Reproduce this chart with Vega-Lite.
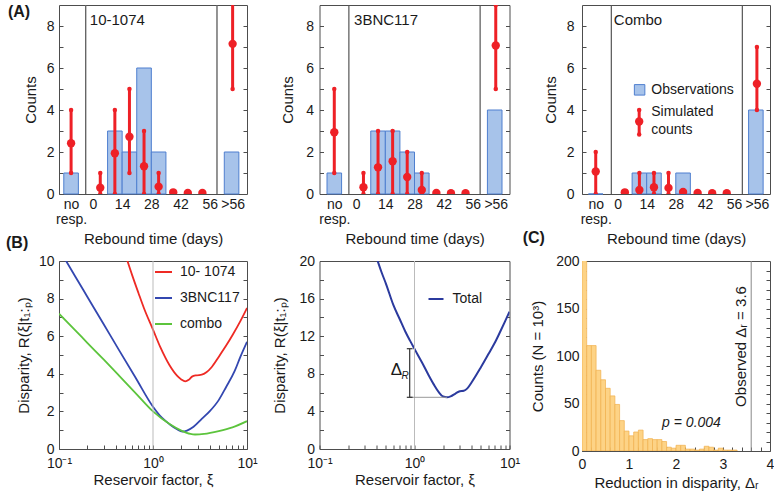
{
  "$schema": "https://vega.github.io/schema/vega-lite/v6.json",
  "padding": {"left": 5, "top": 3, "right": 0, "bottom": 0},
  "bounds": "flush",
  "columns": 3,
  "spacing": {"row": 67, "column": 72.5},
  "resolve": {"scale": {"color": "independent"}, "legend": {"color": "independent"}},
  "config": {
    "font": "Liberation Sans",
    "view": {"stroke": "#4d4d4d", "strokeWidth": 1},
    "axis": {"domain": false, "grid": false, "tickColor": "#4d4d4d", "tickSize": -4, "tickWidth": 1, "labelFontSize": 14, "labelColor": "#1a1a1a", "titleFontSize": 15, "titleFontWeight": "normal", "titleColor": "#1a1a1a", "labelFlush": false, "labelOverlap": false},
    "legend": {"labelFontSize": 14, "labelColor": "#1a1a1a"},
    "text": {"color": "#1a1a1a"}
  },
  "datasets": {
    "one": [{}],
    "obs": [
      {"drug": "10-1074", "start": -14, "end": -7, "count": 1},
      {"drug": "10-1074", "start": 7, "end": 14, "count": 3},
      {"drug": "10-1074", "start": 14, "end": 21, "count": 2},
      {"drug": "10-1074", "start": 21, "end": 28, "count": 6},
      {"drug": "10-1074", "start": 28, "end": 35, "count": 2},
      {"drug": "10-1074", "start": 63, "end": 70, "count": 2},
      {"drug": "3BNC117", "start": -14, "end": -7, "count": 1},
      {"drug": "3BNC117", "start": 7, "end": 14, "count": 3},
      {"drug": "3BNC117", "start": 14, "end": 21, "count": 3},
      {"drug": "3BNC117", "start": 21, "end": 28, "count": 2},
      {"drug": "3BNC117", "start": 28, "end": 35, "count": 1},
      {"drug": "3BNC117", "start": 63, "end": 70, "count": 4},
      {"drug": "Combo", "start": -14, "end": -7, "count": 0},
      {"drug": "Combo", "start": 7, "end": 14, "count": 1},
      {"drug": "Combo", "start": 14, "end": 21, "count": 1},
      {"drug": "Combo", "start": 28, "end": 35, "count": 1},
      {"drug": "Combo", "start": 63, "end": 70, "count": 4}
    ],
    "sim": [
      {"drug": "10-1074", "day": -10.5, "mean": 2.42, "low": 1, "high": 4},
      {"drug": "10-1074", "day": 3.5, "mean": 0.3, "low": 0, "high": 1},
      {"drug": "10-1074", "day": 10.5, "mean": 1.94, "low": 0, "high": 4},
      {"drug": "10-1074", "day": 17.5, "mean": 2.73, "low": 1, "high": 5},
      {"drug": "10-1074", "day": 24.5, "mean": 1.32, "low": 0, "high": 3},
      {"drug": "10-1074", "day": 31.5, "mean": 0.35, "low": 0, "high": 1},
      {"drug": "10-1074", "day": 38.5, "mean": 0.08, "low": null, "high": null},
      {"drug": "10-1074", "day": 45.5, "mean": 0.05, "low": null, "high": null},
      {"drug": "10-1074", "day": 52.5, "mean": 0.05, "low": null, "high": null},
      {"drug": "10-1074", "day": 67, "mean": 7.15, "low": 5, "high": 10},
      {"drug": "3BNC117", "day": -10.5, "mean": 2.94, "low": 1, "high": 5},
      {"drug": "3BNC117", "day": 3.5, "mean": 0.32, "low": 0, "high": 1},
      {"drug": "3BNC117", "day": 10.5, "mean": 1.27, "low": 0, "high": 3},
      {"drug": "3BNC117", "day": 17.5, "mean": 1.56, "low": 0, "high": 3},
      {"drug": "3BNC117", "day": 24.5, "mean": 0.81, "low": 0, "high": 2},
      {"drug": "3BNC117", "day": 31.5, "mean": 0.19, "low": 0, "high": 1},
      {"drug": "3BNC117", "day": 38.5, "mean": 0.05, "low": null, "high": null},
      {"drug": "3BNC117", "day": 45.5, "mean": 0.04, "low": null, "high": null},
      {"drug": "3BNC117", "day": 52.5, "mean": 0.04, "low": null, "high": null},
      {"drug": "3BNC117", "day": 67, "mean": 7.07, "low": 5, "high": 9},
      {"drug": "Combo", "day": -10.5, "mean": 1.07, "low": 0, "high": 2},
      {"drug": "Combo", "day": 3.5, "mean": 0.08, "low": null, "high": null},
      {"drug": "Combo", "day": 10.5, "mean": 0.19, "low": 0, "high": 1},
      {"drug": "Combo", "day": 17.5, "mean": 0.32, "low": 0, "high": 1},
      {"drug": "Combo", "day": 24.5, "mean": 0.29, "low": 0, "high": 1},
      {"drug": "Combo", "day": 31.5, "mean": 0.1, "low": null, "high": null},
      {"drug": "Combo", "day": 38.5, "mean": 0.05, "low": null, "high": null},
      {"drug": "Combo", "day": 45.5, "mean": 0.04, "low": null, "high": null},
      {"drug": "Combo", "day": 52.5, "mean": 0.04, "low": null, "high": null},
      {"drug": "Combo", "day": 67, "mean": 5.25, "low": 4, "high": 7}
    ],
    "curves": [
      {"drug": "10- 1074", "xi": 0.5, "R": 10.45},
      {"drug": "10- 1074", "xi": 0.6, "R": 9.25},
      {"drug": "10- 1074", "xi": 0.7, "R": 8.3},
      {"drug": "10- 1074", "xi": 0.8, "R": 7.5},
      {"drug": "10- 1074", "xi": 1.0, "R": 6.35},
      {"drug": "10- 1074", "xi": 1.2, "R": 5.4},
      {"drug": "10- 1074", "xi": 1.5, "R": 4.45},
      {"drug": "10- 1074", "xi": 1.8, "R": 3.9},
      {"drug": "10- 1074", "xi": 2.0, "R": 3.7},
      {"drug": "10- 1074", "xi": 2.2, "R": 3.6},
      {"drug": "10- 1074", "xi": 2.4, "R": 3.68},
      {"drug": "10- 1074", "xi": 2.6, "R": 3.85},
      {"drug": "10- 1074", "xi": 2.9, "R": 3.92},
      {"drug": "10- 1074", "xi": 3.3, "R": 3.95},
      {"drug": "10- 1074", "xi": 3.7, "R": 4.08},
      {"drug": "10- 1074", "xi": 4.2, "R": 4.35},
      {"drug": "10- 1074", "xi": 5.0, "R": 4.9},
      {"drug": "10- 1074", "xi": 6.0, "R": 5.5},
      {"drug": "10- 1074", "xi": 7.0, "R": 6.05},
      {"drug": "10- 1074", "xi": 8.5, "R": 6.8},
      {"drug": "10- 1074", "xi": 10, "R": 7.5},
      {"drug": "3BNC117", "xi": 0.1, "R": 10.64},
      {"drug": "3BNC117", "xi": 0.15, "R": 9.15},
      {"drug": "3BNC117", "xi": 0.2, "R": 8.1},
      {"drug": "3BNC117", "xi": 0.3, "R": 6.62},
      {"drug": "3BNC117", "xi": 0.44, "R": 5.22},
      {"drug": "3BNC117", "xi": 0.66, "R": 3.75},
      {"drug": "3BNC117", "xi": 1.0, "R": 2.25},
      {"drug": "3BNC117", "xi": 1.25, "R": 1.65},
      {"drug": "3BNC117", "xi": 1.5, "R": 1.32},
      {"drug": "3BNC117", "xi": 1.8, "R": 1.05},
      {"drug": "3BNC117", "xi": 2.05, "R": 0.93},
      {"drug": "3BNC117", "xi": 2.3, "R": 0.98},
      {"drug": "3BNC117", "xi": 2.7, "R": 1.18},
      {"drug": "3BNC117", "xi": 3.3, "R": 1.6},
      {"drug": "3BNC117", "xi": 4.0, "R": 2.0},
      {"drug": "3BNC117", "xi": 5.0, "R": 2.6},
      {"drug": "3BNC117", "xi": 6.0, "R": 3.3},
      {"drug": "3BNC117", "xi": 7.4, "R": 4.15},
      {"drug": "3BNC117", "xi": 8.5, "R": 4.9},
      {"drug": "3BNC117", "xi": 10, "R": 5.7},
      {"drug": "combo", "xi": 0.1, "R": 7.2},
      {"drug": "combo", "xi": 0.15, "R": 6.3},
      {"drug": "combo", "xi": 0.2, "R": 5.65},
      {"drug": "combo", "xi": 0.3, "R": 4.75},
      {"drug": "combo", "xi": 0.44, "R": 3.88},
      {"drug": "combo", "xi": 0.66, "R": 2.95},
      {"drug": "combo", "xi": 1.0, "R": 2.0},
      {"drug": "combo", "xi": 1.5, "R": 1.33},
      {"drug": "combo", "xi": 2.0, "R": 0.98},
      {"drug": "combo", "xi": 2.5, "R": 0.8},
      {"drug": "combo", "xi": 2.8, "R": 0.77},
      {"drug": "combo", "xi": 3.5, "R": 0.8},
      {"drug": "combo", "xi": 5.0, "R": 0.95},
      {"drug": "combo", "xi": 7.0, "R": 1.15},
      {"drug": "combo", "xi": 10, "R": 1.48}
    ],
    "total": [
      {"series": "Total", "xi": 0.38, "R": 21.0},
      {"series": "Total", "xi": 0.45, "R": 18.8},
      {"series": "Total", "xi": 0.5, "R": 17.6},
      {"series": "Total", "xi": 0.6, "R": 15.3},
      {"series": "Total", "xi": 0.7, "R": 13.8},
      {"series": "Total", "xi": 0.8, "R": 12.5},
      {"series": "Total", "xi": 0.9, "R": 11.5},
      {"series": "Total", "xi": 1.0, "R": 10.65},
      {"series": "Total", "xi": 1.2, "R": 9.2},
      {"series": "Total", "xi": 1.4, "R": 7.9},
      {"series": "Total", "xi": 1.6, "R": 6.85},
      {"series": "Total", "xi": 1.8, "R": 6.05},
      {"series": "Total", "xi": 2.0, "R": 5.58},
      {"series": "Total", "xi": 2.2, "R": 5.5},
      {"series": "Total", "xi": 2.4, "R": 5.6},
      {"series": "Total", "xi": 2.7, "R": 5.9},
      {"series": "Total", "xi": 3.0, "R": 6.15},
      {"series": "Total", "xi": 3.3, "R": 6.2},
      {"series": "Total", "xi": 3.6, "R": 6.45},
      {"series": "Total", "xi": 4.0, "R": 7.1},
      {"series": "Total", "xi": 5.0, "R": 8.7},
      {"series": "Total", "xi": 6.0, "R": 10.1},
      {"series": "Total", "xi": 7.0, "R": 11.3},
      {"series": "Total", "xi": 8.0, "R": 12.5},
      {"series": "Total", "xi": 9.0, "R": 13.6},
      {"series": "Total", "xi": 10, "R": 14.6}
    ],
    "hist": [
      {"lo": 0.0, "hi": 0.1, "n": 228}, {"lo": 0.1, "hi": 0.2, "n": 111}, {"lo": 0.2, "hi": 0.3, "n": 111},
      {"lo": 0.3, "hi": 0.4, "n": 85}, {"lo": 0.4, "hi": 0.5, "n": 75}, {"lo": 0.5, "hi": 0.6, "n": 66},
      {"lo": 0.6, "hi": 0.7, "n": 58}, {"lo": 0.7, "hi": 0.8, "n": 49}, {"lo": 0.8, "hi": 0.9, "n": 32},
      {"lo": 0.9, "hi": 1.0, "n": 21}, {"lo": 1.0, "hi": 1.1, "n": 16}, {"lo": 1.1, "hi": 1.2, "n": 20},
      {"lo": 1.2, "hi": 1.3, "n": 22}, {"lo": 1.3, "hi": 1.4, "n": 12}, {"lo": 1.4, "hi": 1.5, "n": 13},
      {"lo": 1.5, "hi": 1.6, "n": 12}, {"lo": 1.6, "hi": 1.7, "n": 12}, {"lo": 1.7, "hi": 1.8, "n": 10},
      {"lo": 1.8, "hi": 1.9, "n": 4}, {"lo": 1.9, "hi": 2.0, "n": 3}, {"lo": 2.0, "hi": 2.1, "n": 6},
      {"lo": 2.1, "hi": 2.2, "n": 6}, {"lo": 2.2, "hi": 2.3, "n": 2}, {"lo": 2.3, "hi": 2.4, "n": 2},
      {"lo": 2.4, "hi": 2.5, "n": 1}, {"lo": 2.5, "hi": 2.6, "n": 2}, {"lo": 2.6, "hi": 2.7, "n": 5},
      {"lo": 2.7, "hi": 2.8, "n": 4}, {"lo": 2.8, "hi": 2.9, "n": 1}, {"lo": 2.9, "hi": 3.0, "n": 3},
      {"lo": 3.0, "hi": 3.1, "n": 1}, {"lo": 3.1, "hi": 3.2, "n": 1}, {"lo": 3.2, "hi": 3.3, "n": 1}
    ]
  },
  "concat": [
    {
      "width": 188, "height": 189,
      "resolve": {"axis": {"x": "independent", "y": "independent"}},
      "layer": [
        {"data": {"name": "obs"}, "transform": [{"filter": "datum.drug === '10-1074'"}],
         "mark": {"type": "bar", "fill": "#a7c3ea", "stroke": "#4f7fcf", "strokeWidth": 1},
         "encoding": {
           "x": {"field": "start", "type": "quantitative", "scale": {"domain": [-16.3, 73.9], "nice": false, "zero": false},
                 "axis": {"title": "Rebound time (days)", "values": [-10.5, 0, 14, 28, 42, 56, 67], "labelExpr": "datum.value == -10.5 ? ['no', 'resp.'] : datum.value == 67 ? '>56' : datum.label", "ticks": false, "labelPadding": 3, "labelLineHeight": 15, "titlePadding": 5, "labelOverlap": false}},
           "x2": {"field": "end"},
           "y": {"field": "count", "type": "quantitative", "scale": {"domain": [0, 9], "nice": false},
                 "axis": {"title": "Counts", "values": [0, 1, 2, 3, 4, 5, 6, 7, 8], "labelExpr": "datum.value % 2 == 0 ? datum.label : ''", "labelPadding": 9, "titlePadding": 8, "labelOverlap": false}},
           "y2": {"datum": 0}
         }},
        {"data": {"name": "one"}, "mark": {"type": "point", "opacity": 0},
         "encoding": {"y": {"datum": 0, "type": "quantitative", "axis": {"orient": "right", "labels": false, "title": null, "values": [1, 2, 3, 4, 5, 6, 7, 8]}}}},
        {"data": {"name": "one"}, "mark": {"type": "rule", "color": "#666666", "strokeWidth": 1.4}, "encoding": {"x": {"datum": -3.5, "type": "quantitative", "axis": null}}},
        {"data": {"name": "one"}, "mark": {"type": "rule", "color": "#666666", "strokeWidth": 1.4}, "encoding": {"x": {"datum": 59.5, "type": "quantitative", "axis": null}}},
        {"data": {"name": "sim"}, "transform": [{"filter": "datum.drug === '10-1074'"}],
         "mark": {"type": "rule", "color": "#ee2026", "strokeWidth": 3, "clip": true},
         "encoding": {"x": {"field": "day", "type": "quantitative", "axis": null}, "y": {"field": "low", "type": "quantitative", "axis": null}, "y2": {"field": "high"}}},
        {"data": {"name": "sim"}, "transform": [{"filter": "datum.drug === '10-1074'"}],
         "mark": {"type": "circle", "color": "#ee2026", "opacity": 1, "size": 20, "clip": true},
         "encoding": {"x": {"field": "day", "type": "quantitative", "axis": null}, "y": {"field": "low", "type": "quantitative", "axis": null}}},
        {"data": {"name": "sim"}, "transform": [{"filter": "datum.drug === '10-1074'"}],
         "mark": {"type": "circle", "color": "#ee2026", "opacity": 1, "size": 20, "clip": true},
         "encoding": {"x": {"field": "day", "type": "quantitative", "axis": null}, "y": {"field": "high", "type": "quantitative", "axis": null}}},
        {"data": {"name": "sim"}, "transform": [{"filter": "datum.drug === '10-1074'"}],
         "mark": {"type": "circle", "color": "#ee2026", "opacity": 1, "size": 70, "clip": true},
         "encoding": {"x": {"field": "day", "type": "quantitative", "axis": null}, "y": {"field": "mean", "type": "quantitative", "axis": null}}},
        {"data": {"name": "one"}, "mark": {"type": "text", "text": "10-1074", "align": "left", "baseline": "middle", "fontSize": 15},
         "encoding": {"x": {"datum": -1.5, "type": "quantitative", "axis": null}, "y": {"datum": 8.3, "type": "quantitative", "axis": null}}},
        {"data": {"name": "one"}, "mark": {"type": "text", "text": "(A)", "align": "left", "baseline": "middle", "fontSize": 16, "fontWeight": "bold"},
         "encoding": {"x": {"datum": -40.8, "type": "quantitative", "axis": null}, "y": {"datum": 8.67, "type": "quantitative", "axis": null}}}
      ]
    },
    {
      "width": 190, "height": 189,
      "resolve": {"axis": {"x": "independent", "y": "independent"}},
      "layer": [
        {"data": {"name": "obs"}, "transform": [{"filter": "datum.drug === '3BNC117'"}],
         "mark": {"type": "bar", "fill": "#a7c3ea", "stroke": "#4f7fcf", "strokeWidth": 1},
         "encoding": {
           "x": {"field": "start", "type": "quantitative", "scale": {"domain": [-17.6, 73.6], "nice": false, "zero": false},
                 "axis": {"title": "Rebound time (days)", "values": [-10.5, 0, 14, 28, 42, 56, 67], "labelExpr": "datum.value == -10.5 ? ['no', 'resp.'] : datum.value == 67 ? '>56' : datum.label", "ticks": false, "labelPadding": 3, "labelLineHeight": 15, "titlePadding": 5, "labelOverlap": false}},
           "x2": {"field": "end"},
           "y": {"field": "count", "type": "quantitative", "scale": {"domain": [0, 9], "nice": false},
                 "axis": {"title": "Counts", "values": [0, 1, 2, 3, 4, 5, 6, 7, 8], "labelExpr": "datum.value % 2 == 0 ? datum.label : ''", "labelPadding": 10, "titlePadding": 10, "labelOverlap": false}},
           "y2": {"datum": 0}
         }},
        {"data": {"name": "one"}, "mark": {"type": "point", "opacity": 0},
         "encoding": {"y": {"datum": 0, "type": "quantitative", "axis": {"orient": "right", "labels": false, "title": null, "values": [1, 2, 3, 4, 5, 6, 7, 8]}}}},
        {"data": {"name": "one"}, "mark": {"type": "rule", "color": "#555555", "strokeWidth": 1.2}, "encoding": {"x": {"datum": -3.5, "type": "quantitative", "axis": null}}},
        {"data": {"name": "one"}, "mark": {"type": "rule", "color": "#555555", "strokeWidth": 1.2}, "encoding": {"x": {"datum": 59.5, "type": "quantitative", "axis": null}}},
        {"data": {"name": "sim"}, "transform": [{"filter": "datum.drug === '3BNC117'"}],
         "mark": {"type": "rule", "color": "#ee2026", "strokeWidth": 3, "clip": true},
         "encoding": {"x": {"field": "day", "type": "quantitative", "axis": null}, "y": {"field": "low", "type": "quantitative", "axis": null}, "y2": {"field": "high"}}},
        {"data": {"name": "sim"}, "transform": [{"filter": "datum.drug === '3BNC117'"}],
         "mark": {"type": "circle", "color": "#ee2026", "opacity": 1, "size": 20, "clip": true},
         "encoding": {"x": {"field": "day", "type": "quantitative", "axis": null}, "y": {"field": "low", "type": "quantitative", "axis": null}}},
        {"data": {"name": "sim"}, "transform": [{"filter": "datum.drug === '3BNC117'"}],
         "mark": {"type": "circle", "color": "#ee2026", "opacity": 1, "size": 20, "clip": true},
         "encoding": {"x": {"field": "day", "type": "quantitative", "axis": null}, "y": {"field": "high", "type": "quantitative", "axis": null}}},
        {"data": {"name": "sim"}, "transform": [{"filter": "datum.drug === '3BNC117'"}],
         "mark": {"type": "circle", "color": "#ee2026", "opacity": 1, "size": 70, "clip": true},
         "encoding": {"x": {"field": "day", "type": "quantitative", "axis": null}, "y": {"field": "mean", "type": "quantitative", "axis": null}}},
        {"data": {"name": "one"}, "mark": {"type": "text", "text": "3BNC117", "align": "left", "baseline": "middle", "fontSize": 15},
         "encoding": {"x": {"datum": -1, "type": "quantitative", "axis": null}, "y": {"datum": 8.3, "type": "quantitative", "axis": null}}}
      ]
    },
    {
      "width": 188, "height": 189,
      "resolve": {"axis": {"x": "independent", "y": "independent"}},
      "layer": [
        {"data": {"name": "obs"}, "transform": [{"filter": "datum.drug === 'Combo'"}],
         "mark": {"type": "bar", "fill": "#a7c3ea", "stroke": "#4f7fcf", "strokeWidth": 1},
         "encoding": {
           "x": {"field": "start", "type": "quantitative", "scale": {"domain": [-17.1, 73.3], "nice": false, "zero": false},
                 "axis": {"title": "Rebound time (days)", "values": [-10.5, 0, 14, 28, 42, 56, 67], "labelExpr": "datum.value == -10.5 ? ['no', 'resp.'] : datum.value == 67 ? '>56' : datum.label", "ticks": false, "labelPadding": 3, "labelLineHeight": 15, "titlePadding": 5, "labelOverlap": false}},
           "x2": {"field": "end"},
           "y": {"field": "count", "type": "quantitative", "scale": {"domain": [0, 9], "nice": false},
                 "axis": {"title": "Counts", "values": [0, 1, 2, 3, 4, 5, 6, 7, 8], "labelExpr": "datum.value % 2 == 0 ? datum.label : ''", "labelPadding": 12, "titlePadding": 8, "labelOverlap": false}},
           "y2": {"datum": 0}
         }},
        {"data": {"name": "one"}, "mark": {"type": "point", "opacity": 0},
         "encoding": {"y": {"datum": 0, "type": "quantitative", "axis": {"orient": "right", "labels": false, "title": null, "values": [1, 2, 3, 4, 5, 6, 7, 8]}}}},
        {"data": {"name": "one"}, "mark": {"type": "rule", "color": "#555555", "strokeWidth": 1.2}, "encoding": {"x": {"datum": -3, "type": "quantitative", "axis": null}}},
        {"data": {"name": "one"}, "mark": {"type": "rule", "color": "#555555", "strokeWidth": 1.2}, "encoding": {"x": {"datum": 60, "type": "quantitative", "axis": null}}},
        {"data": {"name": "sim"}, "transform": [{"filter": "datum.drug === 'Combo'"}],
         "mark": {"type": "rule", "color": "#ee2026", "strokeWidth": 3, "clip": true},
         "encoding": {"x": {"field": "day", "type": "quantitative", "axis": null}, "y": {"field": "low", "type": "quantitative", "axis": null}, "y2": {"field": "high"}}},
        {"data": {"name": "sim"}, "transform": [{"filter": "datum.drug === 'Combo'"}],
         "mark": {"type": "circle", "color": "#ee2026", "opacity": 1, "size": 20, "clip": true},
         "encoding": {"x": {"field": "day", "type": "quantitative", "axis": null}, "y": {"field": "low", "type": "quantitative", "axis": null}}},
        {"data": {"name": "sim"}, "transform": [{"filter": "datum.drug === 'Combo'"}],
         "mark": {"type": "circle", "color": "#ee2026", "opacity": 1, "size": 20, "clip": true},
         "encoding": {"x": {"field": "day", "type": "quantitative", "axis": null}, "y": {"field": "high", "type": "quantitative", "axis": null}}},
        {"data": {"name": "sim"}, "transform": [{"filter": "datum.drug === 'Combo'"}],
         "mark": {"type": "circle", "color": "#ee2026", "opacity": 1, "size": 70, "clip": true},
         "encoding": {"x": {"field": "day", "type": "quantitative", "axis": null}, "y": {"field": "mean", "type": "quantitative", "axis": null}}},
        {"data": {"name": "one"}, "mark": {"type": "text", "text": "Combo", "align": "left", "baseline": "middle", "fontSize": 15},
         "encoding": {"x": {"datum": -1.8, "type": "quantitative", "axis": null}, "y": {"datum": 8.3, "type": "quantitative", "axis": null}}},
        {"data": {"name": "one"}, "mark": {"type": "square", "fill": "#a7c3ea", "stroke": "#4f7fcf", "strokeWidth": 1, "opacity": 1, "size": 110},
         "encoding": {"x": {"datum": 10.6, "type": "quantitative", "axis": null}, "y": {"datum": 4.96, "type": "quantitative", "axis": null}}},
        {"data": {"name": "one"}, "mark": {"type": "text", "text": "Observations", "align": "left", "baseline": "middle", "fontSize": 14},
         "encoding": {"x": {"datum": 16.2, "type": "quantitative", "axis": null}, "y": {"datum": 4.96, "type": "quantitative", "axis": null}}},
        {"data": {"name": "one"}, "mark": {"type": "rule", "color": "#ee2026", "strokeWidth": 3},
         "encoding": {"x": {"datum": 10.4, "type": "quantitative", "axis": null}, "y": {"datum": 2.83, "type": "quantitative", "axis": null}, "y2": {"datum": 4.0}}},
        {"data": {"name": "one"}, "mark": {"type": "circle", "color": "#ee2026", "opacity": 1, "size": 20},
         "encoding": {"x": {"datum": 10.4, "type": "quantitative", "axis": null}, "y": {"datum": 2.83, "type": "quantitative", "axis": null}}},
        {"data": {"name": "one"}, "mark": {"type": "circle", "color": "#ee2026", "opacity": 1, "size": 20},
         "encoding": {"x": {"datum": 10.4, "type": "quantitative", "axis": null}, "y": {"datum": 4.0, "type": "quantitative", "axis": null}}},
        {"data": {"name": "one"}, "mark": {"type": "circle", "color": "#ee2026", "opacity": 1, "size": 70},
         "encoding": {"x": {"datum": 10.4, "type": "quantitative", "axis": null}, "y": {"datum": 3.45, "type": "quantitative", "axis": null}}},
        {"data": {"name": "one"}, "mark": {"type": "text", "text": "Simulated", "align": "left", "baseline": "middle", "fontSize": 14},
         "encoding": {"x": {"datum": 16.2, "type": "quantitative", "axis": null}, "y": {"datum": 3.9, "type": "quantitative", "axis": null}}},
        {"data": {"name": "one"}, "mark": {"type": "text", "text": "counts", "align": "left", "baseline": "middle", "fontSize": 14},
         "encoding": {"x": {"datum": 16.2, "type": "quantitative", "axis": null}, "y": {"datum": 3.05, "type": "quantitative", "axis": null}}}
      ]
    },
    {
      "width": 188, "height": 188,
      "resolve": {"axis": {"x": "independent", "y": "independent"}},
      "layer": [
        {"data": {"name": "curves"},
         "mark": {"type": "line", "strokeWidth": 1.8, "interpolate": "monotone", "clip": true},
         "encoding": {
           "x": {"field": "xi", "type": "quantitative", "scale": {"type": "log", "domain": [0.1, 10], "nice": false},
                 "axis": {"title": "Reservoir factor, ξ", "values": [0.1, 0.2, 0.3, 0.4, 0.5, 0.6, 0.7, 0.8, 0.9, 1, 2, 3, 4, 5, 6, 7, 8, 9, 10], "labelExpr": "datum.value == 0.1 ? '10⁻¹' : datum.value == 1 ? '10⁰' : datum.value == 10 ? '10¹' : ''", "labelPadding": 11, "titlePadding": 2, "labelOverlap": false}},
           "y": {"field": "R", "type": "quantitative", "scale": {"domain": [0, 10], "nice": false},
                 "axis": {"title": "Disparity, R(ξ|t₁:ₚ)", "values": [0, 1, 2, 3, 4, 5, 6, 7, 8, 9, 10], "labelExpr": "datum.value % 2 == 0 ? datum.label : ''", "labelPadding": 9, "titlePadding": 7, "labelOverlap": false,
                          "encode": {"labels": {"update": {"dy": {"signal": "datum.value === 0 ? -4 : 0"}}}}}},
           "color": {"field": "drug", "type": "nominal", "sort": ["10- 1074", "3BNC117", "combo"],
                     "scale": {"domain": ["10- 1074", "3BNC117", "combo"], "range": ["#ee2a24", "#3347b0", "#5cc43c"]},
                     "legend": {"orient": "none", "legendX": 95, "legendY": 1.5, "title": null, "symbolType": "stroke", "symbolStrokeWidth": 2, "symbolSize": 289, "labelFontSize": 14, "rowPadding": 9, "labelOffset": 7}}
         }},
        {"data": {"name": "one"}, "mark": {"type": "point", "opacity": 0},
         "encoding": {"y": {"datum": 0, "type": "quantitative", "axis": {"orient": "right", "labels": false, "title": null, "values": [1, 2, 3, 4, 5, 6, 7, 8, 9]}}}},
        {"data": {"name": "one"}, "mark": {"type": "rule", "color": "#bbbbbb", "strokeWidth": 1}, "encoding": {"x": {"datum": 1, "type": "quantitative", "axis": null}}},
        {"data": {"name": "one"}, "mark": {"type": "text", "text": "(B)", "align": "left", "baseline": "middle", "fontSize": 16, "fontWeight": "bold"},
         "encoding": {"x": {"datum": 0.0273, "type": "quantitative", "axis": null}, "y": {"datum": 10.96, "type": "quantitative", "axis": null}}}
      ]
    },
    {
      "width": 190, "height": 188,
      "resolve": {"axis": {"x": "independent", "y": "independent"}},
      "layer": [
        {"data": {"name": "total"},
         "mark": {"type": "line", "strokeWidth": 2, "interpolate": "monotone", "clip": true},
         "encoding": {
           "x": {"field": "xi", "type": "quantitative", "scale": {"type": "log", "domain": [0.1, 10], "nice": false},
                 "axis": {"title": "Reservoir factor, ξ", "values": [0.1, 0.2, 0.3, 0.4, 0.5, 0.6, 0.7, 0.8, 0.9, 1, 2, 3, 4, 5, 6, 7, 8, 9, 10], "labelExpr": "datum.value == 0.1 ? '10⁻¹' : datum.value == 1 ? '10⁰' : datum.value == 10 ? '10¹' : ''", "labelPadding": 11, "titlePadding": 2, "labelOverlap": false}},
           "y": {"field": "R", "type": "quantitative", "scale": {"domain": [0, 20], "nice": false},
                 "axis": {"title": "Disparity, R(ξ|t₁:ₚ)", "values": [0, 2, 4, 6, 8, 10, 12, 14, 16, 18, 20], "labelExpr": "datum.value % 4 == 0 ? datum.label : ''", "labelPadding": 9, "titlePadding": 11, "labelOverlap": false,
                          "encode": {"labels": {"update": {"dy": {"signal": "datum.value === 0 ? -4 : 0"}}}}}},
           "color": {"field": "series", "type": "nominal",
                     "scale": {"domain": ["Total"], "range": ["#2b3a9e"]},
                     "legend": {"orient": "none", "legendX": 108, "legendY": 29.5, "title": null, "symbolType": "stroke", "symbolStrokeWidth": 2, "symbolSize": 225, "labelFontSize": 14, "labelOffset": 8}}
         }},
        {"data": {"name": "one"}, "mark": {"type": "point", "opacity": 0},
         "encoding": {"y": {"datum": 0, "type": "quantitative", "axis": {"orient": "right", "labels": false, "title": null, "values": [2, 4, 6, 8, 10, 12, 14, 16, 18]}}}},
        {"data": {"name": "one"}, "mark": {"type": "rule", "color": "#bbbbbb", "strokeWidth": 1}, "encoding": {"x": {"datum": 1, "type": "quantitative", "axis": null}}},
        {"data": {"name": "one"}, "mark": {"type": "rule", "color": "#999999", "strokeWidth": 1},
         "encoding": {"x": {"datum": 0.89, "type": "quantitative", "axis": null}, "x2": {"datum": 2.2}, "y": {"datum": 5.5, "type": "quantitative", "axis": null}}},
        {"data": {"name": "one"}, "mark": {"type": "rule", "color": "#333333", "strokeWidth": 1.2},
         "encoding": {"x": {"datum": 0.89, "type": "quantitative", "axis": null}, "y": {"datum": 5.5, "type": "quantitative", "axis": null}, "y2": {"datum": 10.67}}},
        {"data": {"name": "one"}, "mark": {"type": "rule", "color": "#333333", "strokeWidth": 1.2},
         "encoding": {"x": {"datum": 0.83, "type": "quantitative", "axis": null}, "x2": {"datum": 0.955}, "y": {"datum": 10.67, "type": "quantitative", "axis": null}}},
        {"data": {"name": "one"}, "mark": {"type": "rule", "color": "#333333", "strokeWidth": 1.2},
         "encoding": {"x": {"datum": 0.83, "type": "quantitative", "axis": null}, "x2": {"datum": 0.955}, "y": {"datum": 5.5, "type": "quantitative", "axis": null}}},
        {"data": {"name": "one"}, "mark": {"type": "text", "text": "Δ", "align": "right", "baseline": "middle", "fontSize": 17},
         "encoding": {"x": {"datum": 0.74, "type": "quantitative", "axis": null}, "y": {"datum": 8.4, "type": "quantitative", "axis": null}}},
        {"data": {"name": "one"}, "mark": {"type": "text", "text": "R", "align": "center", "baseline": "middle", "fontSize": 10, "fontStyle": "italic"},
         "encoding": {"x": {"datum": 0.795, "type": "quantitative", "axis": null}, "y": {"datum": 7.8, "type": "quantitative", "axis": null}}}
      ]
    },
    {
      "width": 188, "height": 190,
      "resolve": {"axis": {"x": "independent", "y": "independent"}},
      "layer": [
        {"data": {"name": "hist"},
         "mark": {"type": "bar", "fill": "#fdd386", "stroke": "#f0b04c", "strokeWidth": 0.7, "clip": true},
         "encoding": {
           "x": {"field": "lo", "type": "quantitative", "scale": {"domain": [0, 4], "nice": false, "zero": false},
                 "axis": {"title": "Reduction in disparity, Δᵣ", "values": [0, 0.2, 0.4, 0.6, 0.8, 1, 1.2, 1.4, 1.6, 1.8, 2, 2.2, 2.4, 2.6, 2.8, 3, 3.2, 3.4, 3.6, 3.8, 4], "labelExpr": "datum.value % 1 == 0 ? format(datum.value, 'd') : ''", "labelPadding": 10, "titlePadding": 4, "labelOverlap": false}},
           "x2": {"field": "hi"},
           "y": {"field": "n", "type": "quantitative", "scale": {"domain": [0, 200], "nice": false},
                 "axis": {"title": "Counts (N = 10³)", "values": [0, 10, 20, 30, 40, 50, 60, 70, 80, 90, 100, 110, 120, 130, 140, 150, 160, 170, 180, 190, 200], "labelExpr": "datum.value % 50 == 0 ? datum.label : ''", "labelPadding": 7, "titlePadding": 10, "labelOverlap": false}},
           "y2": {"datum": 0}
         }},
        {"data": {"name": "one"}, "mark": {"type": "point", "opacity": 0},
         "encoding": {"y": {"datum": 0, "type": "quantitative", "axis": {"orient": "right", "labels": false, "title": null, "values": [10, 20, 30, 40, 50, 60, 70, 80, 90, 100, 110, 120, 130, 140, 150, 160, 170, 180, 190]}}}},
        {"data": {"name": "one"}, "mark": {"type": "rule", "color": "#888888", "strokeWidth": 1}, "encoding": {"x": {"datum": 3.6, "type": "quantitative", "axis": null}}},
        {"data": {"name": "one"}, "mark": {"type": "text", "text": "Observed Δᵣ = 3.6", "align": "center", "baseline": "middle", "fontSize": 15, "angle": 270},
         "encoding": {"x": {"datum": 3.39, "type": "quantitative", "axis": null}, "y": {"datum": 110, "type": "quantitative", "axis": null}}},
        {"data": {"name": "one"}, "mark": {"type": "text", "text": "p = 0.004", "align": "center", "baseline": "middle", "fontSize": 14, "fontStyle": "italic"},
         "encoding": {"x": {"datum": 2.33, "type": "quantitative", "axis": null}, "y": {"datum": 29.5, "type": "quantitative", "axis": null}}},
        {"data": {"name": "one"}, "mark": {"type": "text", "text": "(C)", "align": "left", "baseline": "middle", "fontSize": 16, "fontWeight": "bold"},
         "encoding": {"x": {"datum": -1.263, "type": "quantitative", "axis": null}, "y": {"datum": 224, "type": "quantitative", "axis": null}}}
      ]
    }
  ]
}
